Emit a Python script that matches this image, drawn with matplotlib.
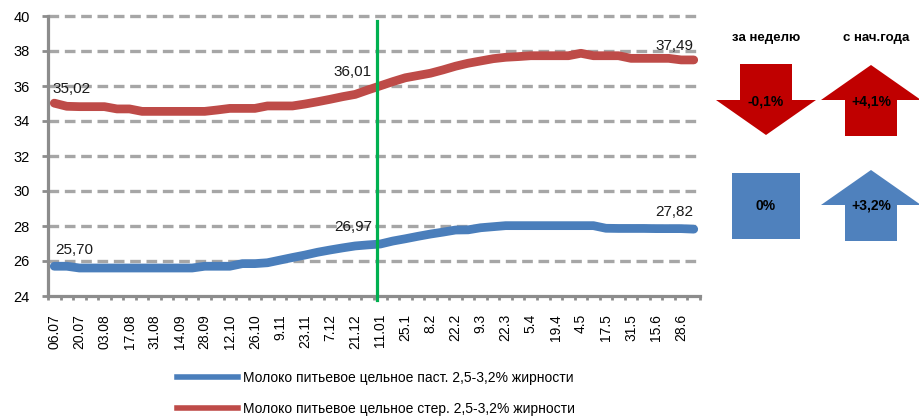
import numpy as np
import matplotlib
matplotlib.use("Agg")
import matplotlib.pyplot as plt
from matplotlib.patches import Polygon, Rectangle

# weekly retail prices, rub. per litre
past_milk = [25.70, 25.70, 25.60, 25.60, 25.60, 25.60, 25.60, 25.60, 25.60, 25.60,
             25.60, 25.60, 25.70, 25.70, 25.70, 25.85, 25.85, 25.90, 26.05, 26.20,
             26.34, 26.50, 26.63, 26.75, 26.86, 26.92, 26.97, 27.14, 27.27, 27.41,
             27.54, 27.65, 27.77, 27.78, 27.90, 27.96, 28.02, 28.02, 28.02, 28.02,
             28.02, 28.02, 28.02, 28.02, 27.87, 27.86, 27.86, 27.86, 27.85, 27.85,
             27.85, 27.82]
ster_milk = [35.02, 34.84, 34.82, 34.82, 34.82, 34.69, 34.69, 34.55, 34.55, 34.55,
             34.55, 34.55, 34.55, 34.63, 34.72, 34.72, 34.72, 34.86, 34.86, 34.86,
             34.97, 35.10, 35.24, 35.39, 35.52, 35.77, 36.01, 36.25, 36.47, 36.60,
             36.73, 36.92, 37.13, 37.30, 37.43, 37.56, 37.64, 37.68, 37.73, 37.73,
             37.73, 37.73, 37.87, 37.73, 37.73, 37.73, 37.58, 37.58, 37.58, 37.58,
             37.49, 37.49]
tick_labels = ['06.07', '20.07', '03.08', '17.08', '31.08', '14.09', '28.09', '12.10',
               '26.10', '9.11', '23.11', '7.12', '21.12', '11.01', '25.1', '8.2', '22.2',
               '9.3', '22.3', '5.4', '19.4', '4.5', '17.5', '31.5', '15.6', '28.6']
series_names = ['Молоко питьевое цельное паст. 2,5-3,2% жирности',
                'Молоко питьевое цельное стер. 2,5-3,2% жирности']
year_start = 26           # index of 11.01
labeled_idx = [0, 26, 51]

# change panel: rows = series (ster, past), columns = week, year-to-date
change_headers = ['за неделю', 'с нач.года']
week_change = [-0.1, 0.0]   # ster, past
ytd_change = [4.1, 3.2]

BLUE = '#4A7EBB'
RED = '#BE4B48'
GRID = '#A6A6A6'
AXIS = '#8C8C8C'
FONT = 'Liberation Sans'

W, H = 919, 418
fig = plt.figure(figsize=(W / 100, H / 100), dpi=100)
ax = fig.add_axes([48 / W, (H - 296) / H, (700 - 48) / W, (296 - 16) / H])

n = len(past_milk)
x = np.arange(n)

for y in range(26, 41, 2):
    ax.axhline(y, color=GRID, lw=2.4, ls=(0, (3.2, 1.7)), zorder=1, clip_on=False)

ax.plot(x, past_milk, color=BLUE, lw=6.3, solid_capstyle='round', solid_joinstyle='round', zorder=3)
ax.plot(x, ster_milk, color=RED, lw=6.3, solid_capstyle='round', solid_joinstyle='round', zorder=3)
ax.plot([year_start - 0.3] * 2, [23.75, 39.7], color='#00B050', lw=2.3, zorder=4, clip_on=False)

ax.set_xlim(-0.5, n - 0.5)
ax.set_ylim(24, 40)


def fmt(v):
    return f'{v:.2f}'.replace('.', ',')


# data labels
for i in labeled_idx:
    if i == 0:
        ha, dx = 'left', -1
    elif i == n - 1:
        ha, dx = 'right', 0
    else:
        ha, dx = 'right', -6
    ax.annotate(fmt(ster_milk[i]), (i, ster_milk[i]), xytext=(dx, 10), textcoords='offset points',
                ha=ha, va='center', fontsize=11, family=FONT, color='#1a1a1a', zorder=5)
    ax.annotate(fmt(past_milk[i]), (i, past_milk[i]), xytext=(dx + 2 if i == 0 else dx, 12),
                textcoords='offset points', ha=ha, va='center', fontsize=11, family=FONT,
                color='#1a1a1a', zorder=5)

# axes styling
for s in ['top', 'right']:
    ax.spines[s].set_visible(False)
for s in ['left', 'bottom']:
    ax.spines[s].set_color(AXIS)
    ax.spines[s].set_linewidth(2.3)
    ax.spines[s].set_zorder(2)

ax.set_yticks(range(24, 41, 2))
ax.tick_params(axis='y', length=4, width=2, color=AXIS, pad=9, labelsize=10.5)
for t in ax.get_yticklabels():
    t.set_family(FONT)

ax.set_xticks(np.arange(-0.5, n, 1.0))
ax.set_xticklabels([])
ax.tick_params(axis='x', which='major', length=3, width=2, color=AXIS)
ax.set_xticks(np.arange(0, n, 2), minor=True)
ax.set_xticklabels(tick_labels, minor=True, rotation=90, fontsize=10, family=FONT)
ax.tick_params(axis='x', which='minor', length=0, pad=13)

# legend
handles = [plt.Line2D([], [], color=BLUE, lw=4), plt.Line2D([], [], color=RED, lw=4)]
fig.legend(handles, series_names, loc='upper left', bbox_to_anchor=(177 / W, (H - 371) / H),
           frameon=False, borderpad=0, borderaxespad=0, handlelength=4.4, handletextpad=0.35,
           labelspacing=1.2, prop={'family': FONT, 'size': 10})

# change panel drawn in pixel coordinates
ov = fig.add_axes([0, 0, 1, 1], zorder=10)
ov.set_xlim(0, W)
ov.set_ylim(H, 0)
ov.axis('off')

col_x = [766, 871]
row_y = [100, 205]
row_colors = ['#C00000', '#4F81BD']


def draw_change(cx, cy, value, color):
    head_w, body_w, head_len, body_len = 100, 52, 35, 36
    if value != 0:
        d = 1 if value > 0 else -1
        pts = [(cx, cy - d * head_len), (cx + head_w / 2, cy), (cx + body_w / 2, cy),
               (cx + body_w / 2, cy + d * body_len), (cx - body_w / 2, cy + d * body_len),
               (cx - body_w / 2, cy), (cx - head_w / 2, cy)]
        ov.add_patch(Polygon(pts, closed=True, color=color, lw=0))
        label = f'{value:+.1f}%'.replace('.', ',')
    else:
        ov.add_patch(Rectangle((cx - 34, cy - 32), 68, 66, color=color, lw=0))
        label = '0%'
    ov.text(cx, cy + 1, label, ha='center', va='center', fontsize=10,
            fontweight='bold', family=FONT, color='black')


for j, head in enumerate(change_headers):
    ov.text(col_x[j] + (0 if j == 0 else 5), 38, head, ha='center', va='center', fontsize=9.5,
            fontweight='bold', family=FONT)

for r in range(2):
    draw_change(col_x[0], row_y[r], week_change[r], row_colors[r])
    draw_change(col_x[1], row_y[r], ytd_change[r], row_colors[r])

fig.savefig('out.png', dpi=100)
